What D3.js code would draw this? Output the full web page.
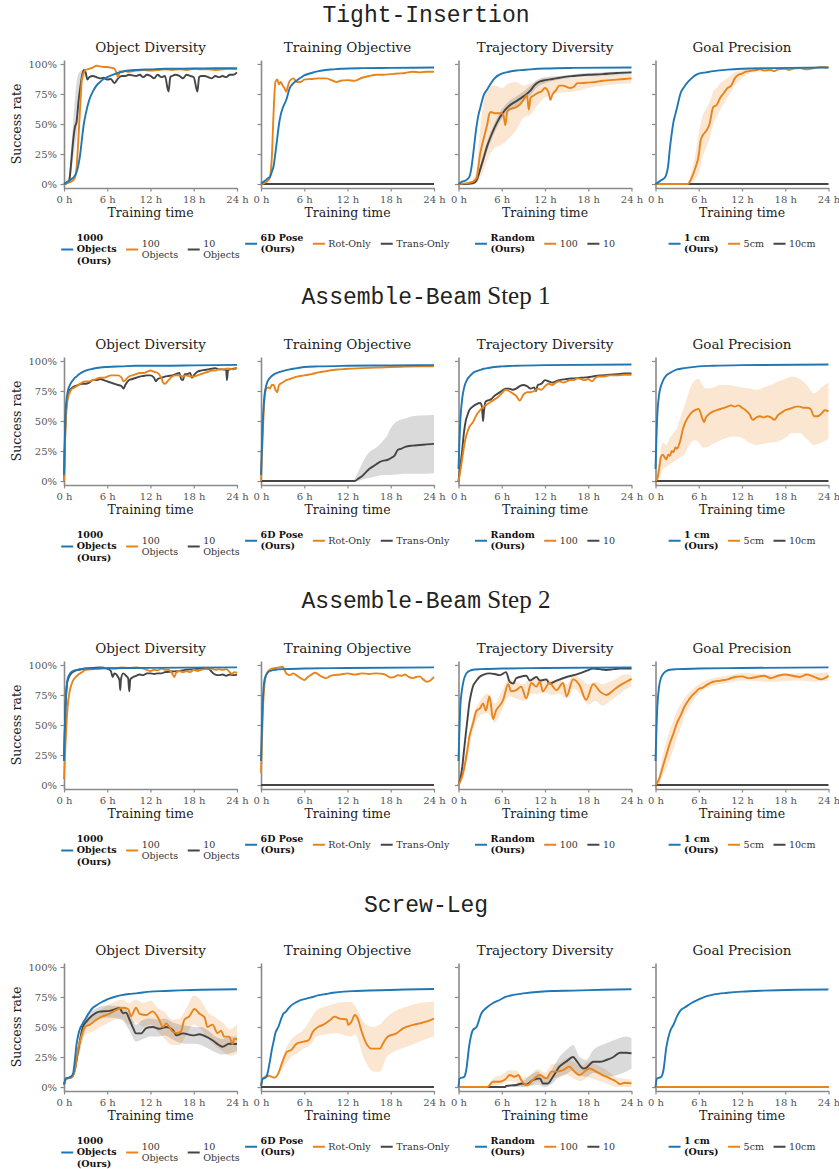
<!DOCTYPE html>
<html><head><meta charset="utf-8">
<script src="https://cdn.jsdelivr.net/npm/d3@7"></script>
<style>body{margin:0;background:#fff}svg{display:block}</style>
</head><body><svg id="c" width="839" height="1169"></svg>
<script>
// ---------- labels ----------
const taskNames = ["Tight-Insertion", "Assemble-Beam", "Assemble-Beam", "Screw-Leg"];
const taskSteps = ["", " Step 1", " Step 2", ""];
const panelTitles = ["Object Diversity", "Training Objective", "Trajectory Diversity", "Goal Precision"];
const legendLabels = [
  [["1000", "Objects", "(Ours)"], ["100", "Objects"], ["10", "Objects"]],
  [["6D Pose", "(Ours)"], ["Rot-Only"], ["Trans-Only"]],
  [["Random", "(Ours)"], ["100"], ["10"]],
  [["1 cm", "(Ours)"], ["5cm"], ["10cm"]]
];
const hourTicks = [0, 6, 12, 18, 24];
const hourTickLabels = ["0 h", "6 h", "12 h", "18 h", "24 h"];
const rateTicks = [0, 25, 50, 75, 100];
const rateTickLabels = ["0%", "25%", "50%", "75%", "100%"];
const xLabel = "Training time";
const yLabel = "Success rate";

// ---------- data: [hour, success %] ----------
const flatZero = [[0, 0], [24, 0]];

// Tight-Insertion
const TI_obj_1000 = [[0,0],[0.5,2],[1,4],[1.5,7],[1.75,10],[2,16],[2.25,25],[2.5,38],[2.75,50],[3,58],[3.5,70],[4,77],[4.5,82],[5,85],[5.5,87.5],[6,89],[7,91.5],[8,93.5],[9,94.5],[10,95],[12,95.5],[14,96],[18,96.2],[21,96.4],[24,96.5]];
const TI_obj_100 = [[0,0],[0.5,1],[1,2],[1.5,5],[1.75,14],[2,38],[2.25,65],[2.5,88],[3,95],[3.5,96],[4,97],[4.5,98.5],[5,98],[5.5,97.5],[6,97.5],[6.5,97],[7,96],[7.25,93],[7.5,89],[7.75,94],[8,93],[8.5,94],[9,93.5],[10,94.5],[11,95],[12,94.5],[13,95],[14,95.5],[15,95],[16,95.5],[17,95],[18,96],[19,95.5],[20,95.5],[21,95],[22,95.5],[23,96],[24,95.5]];
const TI_obj_10 = [[0,0],[0.5,1],[0.75,4],[1,18],[1.25,35],[1.5,47],[1.75,52],[2,68],[2.25,80],[2.5,90],[2.75,95],[3,93],[3.25,87],[3.5,89],[4,90],[4.5,89],[5,88],[5.5,88.5],[6,87],[6.5,87.5],[7,84],[7.5,88],[8,90],[8.5,90],[9,91],[9.5,90.5],[10,90],[10.5,91],[11,89],[11.5,91],[12,90],[12.5,88],[13,91],[13.5,89],[14,90],[14.5,77],[14.75,89],[15,90],[15.5,91],[16,90],[16.5,88],[17,91],[17.5,90],[18,89],[18.5,77],[18.75,89],[19,90],[19.5,90],[20,89],[20.5,88],[21,90],[21.5,89],[22,90],[22.5,89],[23,91],[23.5,91],[24,93]];
const TI_obj_10_band = [[0.75,1,8],[1,8,30],[1.25,20,50],[1.5,30,70],[1.75,40,85],[2,55,92],[2.5,85,95],[3,90,96]];

const TI_train_6d = [[0,0.5],[0.5,2.5],[1,5],[1.25,6],[1.5,10],[1.75,15],[2,26],[2.25,38],[2.5,50],[2.75,58],[3,63],[3.5,70],[4,80],[4.5,84],[5,86.5],[5.5,88.5],[6,90.5],[7,92.5],[8,94],[9,95],[10,95.5],[11,96],[14,96.5],[18,96.7],[24,97]];
const TI_train_rot = [[0,0],[0.5,1],[1,3],[1.25,6],[1.5,22],[1.75,60],[2,85],[2.25,87],[2.5,83],[2.75,85],[3,82],[3.25,80],[3.5,77],[3.75,82],[4,86],[4.5,88],[5,85],[5.5,85],[6,87],[7,87.5],[8,88],[9,88],[10,86],[10.5,85],[11,86],[12,86.5],[13,86],[14,88.5],[15,90],[16,91],[17,91],[18,91.5],[19,92],[20,92.5],[21,93.5],[22,93],[23,93.5],[24,93.5]];
const TI_train_trans = flatZero;

const TI_traj_rand = [[0,0],[0.5,2],[1,3],[1.5,6],[1.75,12],[2,23],[2.25,36],[2.5,48],[2.75,57],[3,63],[3.5,74],[4,79],[4.5,84],[5,88],[5.5,90.5],[6,92],[7,93.5],[8,94.5],[9,95],[10,95.5],[12,96.2],[16,96.7],[24,97]];
const TI_traj_100 = [[0,0],[1,0.5],[2,2],[2.5,5],[2.75,14],[3,25],[3.25,32],[3.5,38],[3.75,44],[4,50],[4.25,58],[4.5,60],[5,59],[5.5,59],[6,59],[6.25,57],[6.5,49],[6.75,60],[7,62],[7.5,63],[8,64],[8.5,66],[9,70],[9.5,74],[9.75,62],[10,72],[10.5,74],[11,76],[11.5,77],[12,80],[12.5,76],[12.75,70],[13,74],[13.5,78],[14,82],[14.5,82],[15,81],[15.5,80],[16,81],[16.5,84],[17,84],[18,84.5],[19,85],[20,86],[21,86.5],[22,87],[23,87.5],[24,88]];
const TI_traj_100_band = [[2,0,4],[2.5,1,12],[3,5,45],[3.5,12,70],[4,20,80],[5,30,82],[6,33,80],[7,38,84],[8,45,85],[9,55,82],[10,58,84],[11,66,86],[12,72,88],[14,76,88],[16,77,88],[18,80,89],[20,82,90],[24,84,91]];
const TI_traj_10 = [[0,0],[1,0],[2,0.5],[2.5,3],[3,12],[3.5,22],[4,32],[4.5,40],[5,47],[5.5,53],[6,58],[6.5,62],[7,65],[8,69],[9,73],[10,78],[10.5,82],[11,84.5],[12,86.5],[13,87.5],[14,88.5],[15,89.5],[16,90],[18,91],[20,91.5],[22,92.5],[24,93]];
const TI_traj_10_band = [[2.5,1.5,4.5],[3,9,15],[4,28,36],[5,43,51],[6,54,62],[7,61,69],[8,65,73],[9,69,77],[10,74,82],[11,81,87],[12,84,89],[14,87,90],[16,88.5,91.5],[20,90,93],[24,91.5,94.5]];

const TI_goal_1cm = [[0,0],[0.5,2],[1,4],[1.25,5],[1.5,8],[1.75,15],[2,30],[2.25,42],[2.5,52],[2.75,58],[3,64],[3.5,76],[4,81],[4.5,85],[5,88],[5.5,90.5],[6,92],[7,93],[8,94],[10,95.3],[12,96],[16,96.5],[24,97]];
const TI_goal_5cm = [[0,0],[4.5,0],[4.75,2],[5,5],[5.5,13],[6,24],[6.25,36],[6.5,40],[7,44],[7.5,50],[8,64],[8.5,66],[9,72],[9.5,76],[10,80],[10.5,82],[11,88],[11.5,91],[12,92],[12.5,93.5],[13,94],[14,95],[14.5,95.5],[15,94.5],[16,95],[16.5,94],[17,95.5],[18,96],[18.5,95],[19,96],[20,96.5],[21,95.5],[22,96.5],[23,97.5],[24,97]];
const TI_goal_5cm_band = [[4.5,0,1],[5,1,10],[5.5,4,24],[6,10,42],[6.5,22,56],[7,30,62],[7.5,38,68],[8,50,77],[8.5,56,80],[9,62,84],[10,72,88],[11,82,93],[12,88,95],[13,92,96],[14,93,97]];
const TI_goal_10cm = flatZero;

// Assemble-Beam Step 1
const AB1_obj_1000 = [[0,5],[0.25,60],[0.5,74],[0.75,79],[1,82],[1.25,84],[1.5,86],[1.75,87],[2,88.5],[2.5,90.5],[3,92],[4,93.5],[5,94.5],[6,95],[8,95.5],[10,96],[14,96],[18,96.3],[24,96.7]];
const AB1_obj_100 = [[0,0],[0.25,50],[0.5,68],[0.75,73],[1,76],[1.5,78],[2,80],[2.5,82],[3,83],[3.5,83],[4,84],[4.5,85],[5,86],[5.5,86],[6,87],[6.5,88],[7,88],[7.5,88],[8,86],[8.25,83],[8.5,84],[9,87],[9.5,88],[10,89],[10.5,90],[11,90],[11.5,91],[12,92],[12.5,91],[13,90],[13.5,86],[13.75,82],[14,81],[14.5,84],[15,87],[15.5,88],[16,88],[16.5,87],[17,88],[17.5,87],[18,87],[18.5,88],[19,89],[19.5,90],[20,91],[20.5,92],[21,92],[21.5,93],[22,93],[22.5,93.5],[23,93.5],[23.5,93],[24,94]];
const AB1_obj_10 = [[0,0],[0.25,55],[0.5,70],[0.75,75],[1,77],[1.5,79],[2,80],[2.5,81],[3,81],[3.5,82],[4,84],[4.5,84],[5,85],[5.5,84],[6,83],[6.5,82],[7,81],[7.5,80],[8,79],[8.25,77],[8.5,80],[9,84],[9.5,85],[10,86],[10.5,87],[11,87.5],[11.5,88],[12,88],[12.5,86],[12.75,83],[13,85],[13.5,86],[14,87],[14.5,87.5],[15,88],[15.5,89],[16,90],[16.25,85],[16.5,84],[16.75,89],[17,89],[17.5,90],[17.75,86],[18,88],[18.5,91],[19,92],[19.5,92.5],[20,93],[20.5,93.5],[21,94],[21.5,93],[22,93],[22.5,92.5],[22.6,84],[22.75,92],[23,93],[23.5,93.5],[24,94]];

const AB1_train_6d = [[0,5],[0.25,50],[0.5,72],[0.75,80],[1,84],[1.5,87.5],[2,89.5],[3,91.5],[4,93],[5,94],[6,95],[8,95.5],[12,96],[18,96.3],[24,96.5]];
const AB1_train_rot = [[0,0],[0.25,40],[0.5,70],[0.75,77],[1,78],[1.25,77],[1.5,80],[1.75,80],[2,76],[2.25,74],[2.5,80],[3,82],[3.5,84],[4,85],[5,87],[6,88],[7,89],[8,90.5],[9,91.5],[10,92.5],[11,93],[12,93.5],[14,94],[16,94.5],[18,95],[20,95.3],[22,95.5],[24,95.5]];
const AB1_train_trans = [[0,0],[13,0],[13.5,2],[14,4],[14.5,7],[15,10],[15.5,12],[16,14],[16.5,16],[17,17],[17.5,17.5],[18,19],[18.5,21],[19,26],[19.5,27],[20,28.5],[21,29.5],[22,30],[23,30.5],[24,31]];
const AB1_train_trans_band = [[12.5,0,0],[13,0,2],[13.5,0,8],[14,1,14],[14.5,2,20],[15,2.5,24],[16,4,28],[17,5,34],[17.5,5,38],[18,5,44],[18.5,5.5,48],[19,5.5,50],[20,6,52],[21,6,54],[22,6,54.5],[24,6.5,55]];

const AB1_traj_rand = [[0,10],[0.25,50],[0.5,68],[0.75,77],[1,82],[1.25,85],[1.5,87],[1.75,88.5],[2,90],[2.5,91.5],[3,92.5],[3.5,93.5],[4,94],[5,95],[6,95.5],[8,96],[12,96.5],[24,97]];
const AB1_traj_100 = [[0,0],[0.25,8],[0.5,18],[0.75,28],[1,36],[1.25,41],[1.5,45],[2,49],[2.5,55],[3,59],[3.5,62],[4,64],[4.5,66],[5,68],[5.5,70],[6,73],[6.5,76],[7,75],[7.5,73],[8,71],[8.5,67],[9,72],[9.5,74],[10,74],[10.5,75],[11,77],[11.5,76],[12,79],[12.5,81],[13,80],[13.5,82],[14,83],[14.5,82],[15,83],[15.5,84],[16,84],[16.5,85.5],[17,85],[17.5,84],[18,85],[18.5,83],[19,86],[19.5,87],[20,87],[21,88],[22,88],[23,88.5],[24,88.5]];
const AB1_traj_10 = [[0,0],[0.25,12],[0.5,25],[0.75,40],[1,50],[1.25,55],[1.5,59],[2,62],[2.5,64],[3,65],[3.25,62],[3.4,50],[3.5,56],[3.75,66],[4,67],[4.5,68],[5,71],[5.5,73],[6,75],[6.5,77],[7,77],[7.5,76],[8,77],[8.5,79],[9,80],[9.5,79],[10,77],[10.5,78],[10.75,75],[11,80],[11.5,81],[12,84],[12.5,83],[13,82],[13.5,83],[14,84],[15,85],[16,85.5],[17,86],[18,86.5],[19,87.5],[20,88],[21,88.5],[22,89],[23,89.5],[24,89.7]];

const AB1_goal_1cm = [[0,10],[0.25,55],[0.5,72],[0.75,79],[1,83],[1.5,88],[2,90],[3,93],[4,94],[6,95.5],[8,96],[12,96.5],[24,97]];
const AB1_goal_5cm = [[0,0],[0.25,2],[0.5,10],[0.75,20],[1,22],[1.25,20],[1.5,18],[1.75,22],[2,21],[2.25,25],[2.5,24],[2.75,28],[3,27],[3.25,30],[3.5,35],[3.75,42],[4,47],[4.5,53],[5,57],[5.5,59],[6,60],[6.5,52],[6.75,49],[7,53],[7.5,56],[8,58],[8.5,59],[9,60],[9.5,61],[10,62],[10.5,63],[11,62],[11.5,63],[12,61],[12.5,59],[13,56],[13.5,51],[14,53],[14.5,54],[15,53],[15.5,54],[16,53],[16.5,51],[17,55],[17.5,57],[18,59],[18.5,60],[19,61],[19.5,62],[20,62],[20.5,61],[21,61],[21.5,60],[22,54],[22.5,54],[23,56],[23.5,59],[24,58]];
const AB1_goal_5cm_band = [[0,0,0],[0.5,2,18],[1,10,32],[1.5,12,30],[2,14,36],[2.5,16,40],[3,18,44],[3.5,20,54],[4,22,62],[4.5,28,72],[5,33,80],[5.5,34,84],[6,32,85],[6.5,28,80],[7,28,77],[8,31,78],[9,34,80],[10,36,80],[11,37,79],[12,36,78],[13,32,77],[14,30,76],[15,31,78],[16,32,80],[17,33,83],[18,36,85],[19,40,87],[20,40,85],[21,35,80],[22,30,73],[23,32,78],[24,35,82]];
const AB1_goal_10cm = flatZero;

// Assemble-Beam Step 2
const AB2_obj_1000 = [[0,20],[0.25,70],[0.5,88],[0.75,92],[1,94],[1.5,95.5],[2,96],[3,97],[6,97.3],[12,97.6],[24,98]];
const AB2_obj_100 = [[0,5],[0.25,40],[0.5,65],[0.75,77],[1,83],[1.25,87],[1.5,89],[2,92],[2.5,94],[3,96],[4,96.5],[5,97],[6,97.5],[7,97],[8,98],[9,97.5],[10,98],[11,97],[12,95],[12.5,96],[13,95.5],[13.5,97],[14,96],[14.5,96],[15,93],[15.3,90],[15.6,94],[16,95],[16.5,94],[17,95],[17.5,94],[18,96],[18.5,95],[19,96],[19.5,96.5],[20,97],[20.5,97],[21,96],[21.5,96.5],[22,96],[22.5,96.5],[23,94],[23.3,92.5],[23.6,94],[24,93.5]];
const AB2_obj_10 = [[0,20],[0.25,70],[0.5,87],[1,93],[1.5,95],[2,96],[3,97],[4,97.5],[5,98],[6,97],[6.5,95],[6.75,90],[7,93],[7.5,90],[7.7,87],[7.8,79],[7.9,88],[8.2,93],[8.6,91],[8.9,89],[9.05,78],[9.2,88],[9.6,90],[10,91],[10.5,92],[11,91.5],[11.5,93],[12,93],[12.5,92.5],[13,93],[13.5,93],[14,94],[15,94.5],[16,95],[17,96],[18,96.5],[19,97],[20,96.8],[20.4,95],[20.7,93],[21,92],[21.5,91.5],[22,92],[22.5,91],[23,92],[23.5,91.5],[24,92]];

const AB2_train_6d = [[0,20],[0.25,70],[0.5,88],[0.75,92],[1,94],[1.5,95.5],[2,96],[3,96.5],[6,97],[12,97.5],[24,98]];
const AB2_train_rot = [[0,10],[0.25,60],[0.5,85],[0.75,92],[1,95],[1.5,97],[2,97.5],[2.5,98],[3,98.5],[3.25,96],[3.5,93],[3.75,92],[4,91.5],[4.5,93],[5,91],[5.5,89],[6,87.5],[6.5,90],[7,92],[7.5,93.5],[8,92],[8.5,90],[9,89],[9.5,90.5],[10,91.5],[11,92],[12,93],[13,92],[14,93],[15,92.5],[16,93],[17,92.5],[17.5,91],[18,89.5],[18.5,90],[19,91.5],[19.5,91],[20,92],[20.5,90],[21,89],[21.5,90],[22,90.5],[22.5,88],[23,86],[23.5,87],[24,90]];
const AB2_train_trans = flatZero;

const AB2_traj_rand = [[0,20],[0.25,65],[0.5,80],[0.75,88],[1,92],[1.25,94],[1.5,95],[2,96],[3,96.5],[6,97],[12,97.5],[24,98]];
const AB2_traj_100 = [[0,0],[0.25,3],[0.5,7],[0.75,13],[1,21],[1.25,30],[1.5,40],[1.75,46],[2,51],[2.5,62],[3,64],[3.4,68],[3.8,62],[4.3,74],[4.8,55],[5.2,62],[5.7,66],[6.2,71],[6.9,84],[7.3,78],[8,79],[8.7,82],[9.4,72],[10.1,85],[10.8,82],[11.3,86],[11.7,78],[12.6,85],[13.6,79],[14.5,85],[15,74],[15.9,88],[16.8,83],[17.7,71],[18.7,84],[19.6,78],[20.5,75],[21.5,79],[22.4,83],[23.3,86],[24,88.5]];
const AB2_traj_100_band = [[0,0,0],[1,15,27],[2,45,57],[3,58,70],[4,60,76],[5,52,68],[6,62,78],[7,74,88],[8,72,86],[9,70,84],[10,76,89],[11,76,88],[12,77,89],[13,75,87],[14,76,88],[15,72,84],[16,80,92],[17,75,88],[18,67,84],[19,70,86],[20,66,84],[21,70,86],[22,74,89],[23,79,92],[24,82,92]];
const AB2_traj_10 = [[0,0],[0.25,5],[0.5,14],[0.75,28],[1,42],[1.25,55],[1.5,68],[1.75,76],[2,82],[2.5,87],[2.9,90],[3.5,92],[4.3,93],[5,92.5],[5.7,91.5],[6.6,94],[7.1,86],[7.6,84.5],[8,89],[8.5,90],[9.4,91],[9.9,87],[10.8,90],[11.3,87],[12.2,88],[12.6,84.5],[13.6,87],[15,90],[16,91.5],[16.8,93],[17.7,95],[18.7,97],[19.6,96.5],[20.5,95.8],[21.5,96.5],[22.4,97],[24,97]];

const AB2_goal_1cm = [[0,20],[0.25,65],[0.5,82],[0.75,89],[1,92],[1.5,95],[2,96],[3,96.5],[6,97],[12,97.5],[24,98]];
const AB2_goal_5cm = [[0,0],[0.5,5],[1,15],[1.5,25],[2,35],[2.5,43],[3,52],[3.5,58],[4,65],[4.5,70],[5,74],[5.5,77],[6,80],[6.5,81],[7,83],[8,86],[9,87],[10,88],[11,90],[12,90.5],[13,89],[14,90],[15,91],[16,89],[17,91],[18,92],[19,91],[20,90],[21,92],[22,90],[23,88],[24,91]];
const AB2_goal_5cm_band = [[0,0,0],[0.5,1,9],[1,8,24],[1.5,14,36],[2,22,46],[2.5,30,54],[3,40,62],[3.5,48,67],[4,57,72],[5,68,79],[6,76,84],[8,83,89],[10,85,91],[12,87,93],[16,86,92],[20,87,93],[22,86,93],[24,87,94]];
const AB2_goal_10cm = flatZero;

// Screw-Leg
const SL_obj_1000 = [[0,2],[0.25,7],[0.5,7.5],[0.75,8],[1,9],[1.25,11],[1.5,22],[1.75,36],[2,44],[2.25,49],[2.5,52],[3,57],[3.5,62],[4,66],[4.5,68],[5,70],[5.5,71.5],[6,73],[7,75],[8,76.5],[9,77.5],[10,78],[12,79.5],[14,80],[16,80.5],[19,81],[24,81.5]];
const SL_obj_100 = [[0,2],[0.3,7],[1,8],[1.5,14],[1.9,30],[2.4,42],[2.9,50],[3.6,52],[4.5,56],[5.4,59],[6.3,61],[7.2,64],[8.2,66],[8.9,65],[9.3,59],[10,66],[10.5,61],[11.4,60],[12.3,63],[13.2,56],[13.7,50],[14.2,53],[14.6,50],[15.1,46],[15.6,45],[16.2,46],[16.7,56],[17.4,59],[18.1,65],[18.8,61],[19.5,58],[19.9,50],[20.6,52],[21.3,45],[21.8,47],[22.2,42],[22.9,42],[23.4,36],[23.6,40],[24,40]];
const SL_obj_100_band = [[2,25,35],[3,44,56],[4,46,60],[5,50,64],[6,53,68],[7,56,71],[8,57,73],[9,52,70],[10,54,73],[11,50,70],[12,52,72],[13,46,66],[14,40,62],[15,35,56],[16,35,57],[17,44,66],[18,52,76],[19,48,72],[20,40,62],[21,34,58],[22,30,54],[23,26,48],[24,28,52]];
const SL_obj_10 = [[0,2],[0.3,7],[1,8],[1.5,14],[1.9,28],[2.4,45],[2.6,50],[3.1,54.5],[4,60],[4.9,62.8],[6.3,63.4],[7.7,65.6],[8.2,61.5],[8.6,62],[9.1,56],[9.6,49],[10,44.7],[10.7,44.7],[11.4,49],[12.3,50],[13.2,48.5],[14.2,50],[15.1,47.5],[15.6,43],[16.5,44.7],[17.9,43],[18.8,44],[19.7,42],[20.6,39],[21.5,35],[22,33.5],[22.9,36],[24,35.8]];
const SL_obj_10_band = [[2,24,34],[3,48,58],[4,55,64],[6,58,68],[8,56,67],[9,48,62],[10,38,52],[11,40,56],[12,42,57],[13,42,56],[14,43,57],[15,40,54],[16,37,52],[17,36,51],[18,36,50],[19,35,50],[20,32,47],[21,29,42],[22,27,40],[23,28,42],[24,30,42]];

const SL_train_6d = [[0,1],[0.25,7],[0.5,7.5],[0.75,8.5],[1,14],[1.25,22],[1.5,31],[1.75,38],[2,45],[2.4,50],[2.75,56],[3.1,61],[3.5,63],[3.8,65.5],[4.2,68],[4.7,70],[5.2,71.5],[5.6,72.5],[6.5,74],[7.2,75],[8,76.5],[9,77.5],[10,78.5],[11.5,79.5],[13.2,80],[15,80.4],[17.9,80.8],[20,81.2],[24,81.7]];
const SL_train_rot = [[0,1],[0.25,7],[1,9.4],[1.5,8.5],[1.9,7.8],[2.4,11.4],[2.9,19.7],[3.6,29.4],[4.2,30.8],[4.9,36],[5.9,37.8],[6.6,39],[7.2,46],[7.9,50],[8.6,51.7],[9.6,55.8],[10.2,58.6],[10.9,57],[11.9,56.4],[12.1,51.7],[12.6,55],[13,60],[13.5,55.8],[13.9,47.5],[14.6,36.4],[15.3,32],[16.5,32],[16.9,36],[17.6,42],[18.8,44.7],[19.7,48.9],[21.1,51.7],[22,53],[22.9,54.4],[24,57]];
const SL_train_rot_band = [[2.5,10,14],[3,15,25],[4,24,38],[5,28,44],[5.9,32,47.5],[7,36,58],[7.7,42,64],[9,44,67],[10.5,44.7,70],[12.4,42,71],[13,44,68],[14.4,22.5,53],[15.6,12.8,50],[16.5,12.8,52],[17.4,25,58],[18,28,61],[20.2,33.6,67],[22,38,70],[24,42,71]];
const SL_train_trans = flatZero;

const SL_traj_rand = [[0,0],[0.15,7],[0.8,8.6],[1.07,14],[1.5,35],[2,47.5],[2.5,50],[3.15,61],[3.8,65.6],[4.8,70],[5.7,72.5],[6.5,75],[7.6,76.7],[9,78],[11.3,79.4],[13,80],[15.9,80.3],[20,81],[24,81.4]];
const SL_traj_100 = [[0,0],[4,0],[4.8,4.4],[5.7,4.4],[6.6,7],[7.1,10],[7.8,8.6],[8.3,10],[8.7,5.8],[9.4,1.7],[9.6,1.7],[10.3,5.8],[11.3,10],[12.2,7.2],[12.9,12.8],[13.6,12.8],[14.5,14],[15.4,17],[15.9,14],[16.8,10],[17.7,14],[18.2,15.5],[19.1,12.8],[20,10],[21,7.2],[21.9,4.4],[22.4,2.5],[23.1,3.6],[24,3]];
const SL_traj_100_band = [[4,0,0],[5,1,8],[6,2,10],[7,5,14],[8,4,14],[9,0,8],[10,1,10],[11,5,15],[12,3,12],[13,7,19],[14,8,20],[15,10,24],[16,7,21],[17,5,17],[18,8,21],[19,6,19],[20,4,16],[21,2,12],[22,0,8],[23,0,7],[24,0,6]];
const SL_traj_10 = [[0,0],[6.5,0],[6.6,1],[8,1.7],[8.9,3],[9.4,2],[10.3,5.8],[11.3,7.2],[11.7,3],[12.4,3],[13.1,8.6],[14,17],[14.9,21],[15.9,25],[16.3,22.5],[16.8,18.3],[17.3,15.5],[17.7,16],[18.7,21],[19.6,21],[20.5,22.5],[21.5,25],[22.4,28.6],[23.3,28.6],[24,28]];
const SL_traj_10_band = [[6.5,0,0],[8,0,3],[9,0,5],[10,1,10],[11,2,13],[12,0,7],[13,3,15],[14,8.6,25],[15,11,31],[15.9,14,35],[16.8,10,25],[17.7,8.6,22.5],[18.7,12,30.8],[20.5,8.6,36.4],[22,10,40],[23.3,13,42],[24,15.5,40.6]];

const SL_goal_1cm = [[0,0],[0.2,7],[0.8,8.5],[1.1,14],[1.5,33],[2,46],[2.5,52],[3,59],[3.5,64],[4,66],[5,70],[6,73],[7,75.5],[8,77],[10,78.5],[12,79.5],[15,80.3],[20,81],[24,81.3]];
const SL_goal_5cm = flatZero;
const SL_goal_10cm = flatZero;

// series per panel: [ours(blue), second(orange), third(gray)]; bands per series (or null)
const grid = [
  [
    {lines:[TI_obj_1000, TI_obj_100, TI_obj_10], bands:[null, null, TI_obj_10_band]},
    {lines:[TI_train_6d, TI_train_rot, TI_train_trans], bands:[null, null, null]},
    {lines:[TI_traj_rand, TI_traj_100, TI_traj_10], bands:[null, TI_traj_100_band, TI_traj_10_band]},
    {lines:[TI_goal_1cm, TI_goal_5cm, TI_goal_10cm], bands:[null, TI_goal_5cm_band, null]}
  ],
  [
    {lines:[AB1_obj_1000, AB1_obj_100, AB1_obj_10], bands:[null, null, null]},
    {lines:[AB1_train_6d, AB1_train_rot, AB1_train_trans], bands:[null, null, AB1_train_trans_band]},
    {lines:[AB1_traj_rand, AB1_traj_100, AB1_traj_10], bands:[null, null, null]},
    {lines:[AB1_goal_1cm, AB1_goal_5cm, AB1_goal_10cm], bands:[null, AB1_goal_5cm_band, null]}
  ],
  [
    {lines:[AB2_obj_1000, AB2_obj_100, AB2_obj_10], bands:[null, null, null]},
    {lines:[AB2_train_6d, AB2_train_rot, AB2_train_trans], bands:[null, null, null]},
    {lines:[AB2_traj_rand, AB2_traj_100, AB2_traj_10], bands:[null, AB2_traj_100_band, null]},
    {lines:[AB2_goal_1cm, AB2_goal_5cm, AB2_goal_10cm], bands:[null, AB2_goal_5cm_band, null]}
  ],
  [
    {lines:[SL_obj_1000, SL_obj_100, SL_obj_10], bands:[null, SL_obj_100_band, SL_obj_10_band]},
    {lines:[SL_train_6d, SL_train_rot, SL_train_trans], bands:[null, SL_train_rot_band, null]},
    {lines:[SL_traj_rand, SL_traj_100, SL_traj_10], bands:[null, SL_traj_100_band, SL_traj_10_band]},
    {lines:[SL_goal_1cm, SL_goal_5cm, SL_goal_10cm], bands:[null, null, null]}
  ]
];

// ---------- style / layout ----------
const colors = ["#1f77b4", "#e8841a", "#454545"];
const SERIF = "DejaVu Serif";
const colX0 = [64, 261, 458.5, 655.5];
const plotW = 173;
const row100 = [64, 361, 665, 967];
const taskY = [15, 297, 601, 905];
const spineCol = "#8a8a8a";

const svg = d3.select("#c");

grid.forEach((row, ri) => {
  const t = svg.append("text").attr("x", 426).attr("y", taskY[ri] + 7)
    .attr("text-anchor", "middle").attr("fill", "#222");
  t.append("tspan").attr("font-family", "Liberation Mono").attr("font-size", 23).text(taskNames[ri]);
  if (taskSteps[ri]) t.append("tspan").attr("font-family", "Liberation Serif").attr("font-size", 25).text(taskSteps[ri]);

  row.forEach((panel, ci) => {
    const x0 = colX0[ci];
    const top = row100[ri];
    const x = d3.scaleLinear().domain([0, 24]).range([x0, x0 + plotW]);
    const y = d3.scaleLinear().domain([-3.3, 103.3]).range([top + 124, top - 4]);
    const g = svg.append("g");

    // bands
    const area = d3.area().x(d => x(d[0])).y0(d => y(d[1])).y1(d => y(d[2])).curve(d3.curveMonotoneX);
    panel.bands.forEach((b, k) => {
      if (!b) return;
      g.append("path").attr("d", area(b)).attr("fill", colors[k]).attr("fill-opacity", 0.2);
    });

    // axes
    const ax = d3.axisLeft(y).tickValues(rateTicks).tickSize(3.5).tickPadding(3.5).tickSizeOuter(0)
      .tickFormat((d, i) => ci === 0 ? rateTickLabels[i] : "");
    const gy = g.append("g").attr("transform", `translate(${x0},0)`).call(ax);
    const bx = d3.axisBottom(x).tickValues(hourTicks).tickSize(3.5).tickPadding(4).tickSizeOuter(0)
      .tickFormat((d, i) => hourTickLabels[i]);
    const gx = g.append("g").attr("transform", `translate(0,${top + 124})`).call(bx);
    [gx, gy].forEach(a => {
      a.select(".domain").attr("stroke", spineCol).attr("stroke-width", 1.6);
      a.selectAll(".tick line").attr("stroke", spineCol).attr("stroke-width", 1.2);
      a.selectAll(".tick text").attr("font-family", SERIF).attr("font-size", 10).attr("fill", "#555");
    });

    // lines (gray, orange, blue order)
    const line = d3.line().x(d => x(d[0])).y(d => y(d[1])).curve(d3.curveMonotoneX);
    [2, 1, 0].forEach(k => {
      g.append("path").attr("d", line(panel.lines[k])).attr("fill", "none")
        .attr("stroke", colors[k]).attr("stroke-width", 1.9).attr("stroke-linejoin", "round");
    });

    // titles
    g.append("text").attr("x", x0 + plotW / 2).attr("y", top - 16.5).attr("dy", "0.35em")
      .attr("text-anchor", "middle").attr("font-family", SERIF).attr("font-size", 13.5).attr("fill", "#222")
      .text(panelTitles[ci]);
    g.append("text").attr("x", x0 + plotW / 2).attr("y", top + 149).attr("dy", "0.35em")
      .attr("text-anchor", "middle").attr("font-family", SERIF).attr("font-size", 12.5).attr("fill", "#222")
      .text(xLabel);
    if (ci === 0) {
      g.append("text").attr("transform", `translate(17,${top + 60}) rotate(-90)`).attr("dy", "0.35em")
        .attr("text-anchor", "middle").attr("font-family", SERIF).attr("font-size", 12.5).attr("fill", "#222")
        .text(yLabel);
    }

    // legend
    const items = legendLabels[ci];
    const fs = 9.5, lh = 11.5;
    const maxLines = d3.max(items, it => it.length);
    const cy = top + 173.5 + (maxLines - 1) * lh / 2;
    const lg = g.append("g");
    let cx = 0;
    items.forEach((lines, k) => {
      lg.append("line").attr("x1", cx).attr("x2", cx + 12).attr("y1", cy + 0.5).attr("y2", cy + 0.5)
        .attr("stroke", colors[k]).attr("stroke-width", 2);
      const tx = lg.append("text").attr("font-family", SERIF).attr("font-size", fs)
        .attr("font-weight", k === 0 ? "bold" : "normal").attr("fill", k === 0 ? "#111" : "#333");
      const y0 = cy - (lines.length - 1) * lh / 2;
      lines.forEach((s, j) => tx.append("tspan").attr("x", cx + 15.5).attr("y", y0 + j * lh + fs * 0.35).text(s));
      const w = tx.node().getBBox().width;
      cx += 15.5 + w + 9.5;
    });
    const totalW = cx - 9.5;
    lg.attr("transform", `translate(${x0 + plotW / 2 - totalW / 2},0)`);
  });
});
</script></body></html>
